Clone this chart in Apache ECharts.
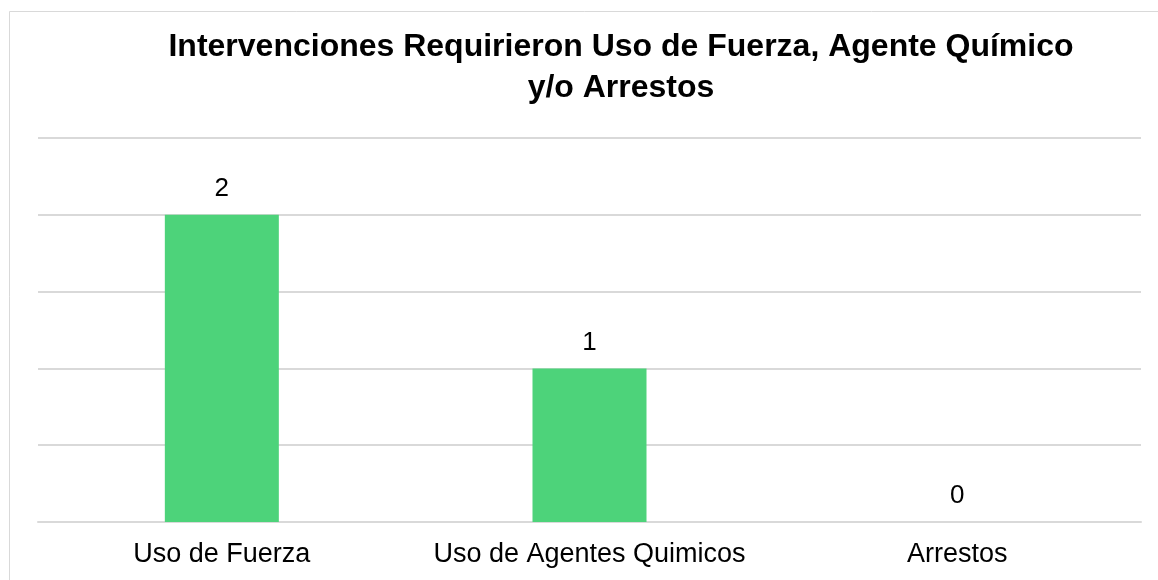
<!DOCTYPE html>
<html><head><meta charset="utf-8">
<script src="https://cdn.jsdelivr.net/npm/echarts@6/dist/echarts.min.js"></script>
<style>html,body{margin:0;padding:0;background:#fff}#c{width:1158px;height:580px}</style>
</head><body><div id="c"></div>
<script>
const titleLines = ['Intervenciones Requirieron Uso de Fuerza, Agente Químico', 'y/o Arrestos'];
const categories = ['Uso de Fuerza', 'Uso de Agentes Quimicos', 'Arrestos'];
const values = [2, 1, 0];

const chart = echarts.init(document.getElementById('c'), null, {renderer: 'canvas'});
chart.setOption({
  animation: false,
  backgroundColor: '#ffffff',
  title: {
    text: titleLines.join('\n'),
    left: 616, top: 22, textAlign: 'center',
    textStyle: {fontFamily: 'Liberation Sans, Arial', fontSize: 32, fontWeight: 'bold', color: '#000', lineHeight: 41}
  },
  graphic: [{
    type: 'rect', shape: {x: 9.5, y: 11.5, width: 1300, height: 700},
    style: {fill: 'none', stroke: '#d9d9d9', lineWidth: 1}, silent: true
  }],
  grid: {left: 38, right: 17, top: 138, bottom: 58},
  xAxis: {
    type: 'category', data: categories,
    axisLine: {lineStyle: {color: '#d9d9d9', width: 2}},
    axisTick: {show: false},
    axisLabel: {interval: 0, hideOverlap: false, fontFamily: 'Liberation Sans, Arial', fontSize: 27, color: '#000', margin: 19}
  },
  yAxis: {
    type: 'value', min: 0, max: 2.5, interval: 0.5,
    axisLabel: {show: false}, axisLine: {show: false}, axisTick: {show: false},
    splitLine: {lineStyle: {color: '#d9d9d9', width: 2}}
  },
  series: [{
    type: 'bar', data: values, barWidth: 114,
    itemStyle: {color: '#4dd37a'},
    label: {show: true, position: 'top', distance: 13, fontFamily: 'Liberation Sans, Arial', fontSize: 26, color: '#000'}
  }]
});
</script></body></html>
